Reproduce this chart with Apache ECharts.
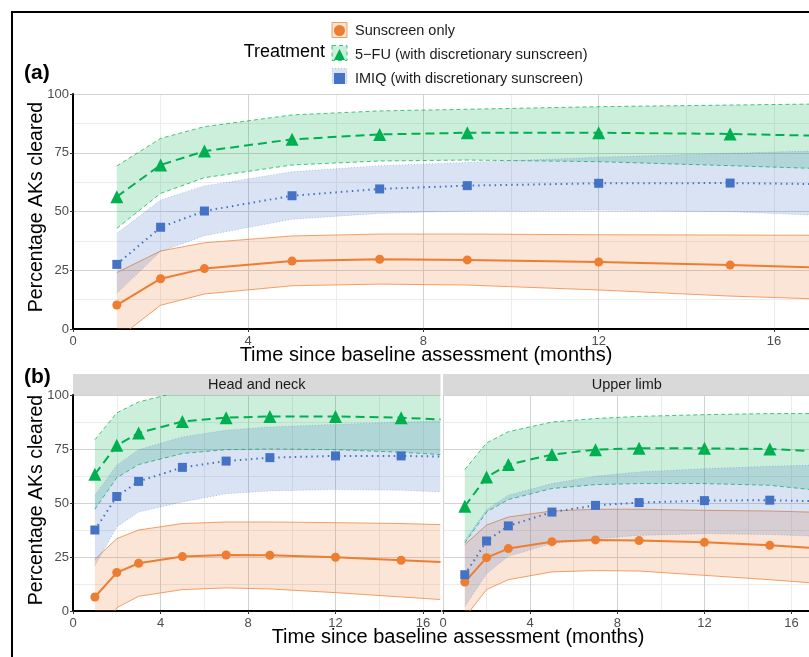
<!DOCTYPE html>
<html><head><meta charset="utf-8">
<script src="https://cdn.jsdelivr.net/npm/echarts@6/dist/echarts.min.js"></script>
<style>html,body{margin:0;padding:0;background:#fff}#c{width:809px;height:657px}</style>
</head><body><div id="c"></div>
<script>
const months = [1, 2, 3, 5, 7, 9, 12, 15, 16.8];
const markerMonths = [1, 2, 3, 5, 7, 9, 12, 15];
const seriesNames = ['Sunscreen only', '5−FU (with discretionary sunscreen)', 'IMIQ (with discretionary sunscreen)'];
const facetLabels = ['Head and neck', 'Upper limb'];
const xTicks = [0, 4, 8, 12, 16];

// (a) all sites
const allSunEst = [10.2, 21.4, 25.7, 28.9, 29.7, 29.4, 28.5, 27.2, 26.3];
const allSunLo  = [-4.3, 10.1, 14.9, 18.4, 19.1, 18.7, 16.6, 14.0, 12.9];
const allSunHi  = [24.0, 33.2, 36.7, 39.6, 40.4, 40.4, 40.1, 40.0, 39.9];
const allFuEst  = [56.3, 69.8, 75.7, 80.7, 82.8, 83.5, 83.5, 83.0, 82.3];
const allFuLo   = [42.8, 57.7, 64.4, 69.8, 71.5, 71.9, 71.2, 69.5, 68.4];
const allFuHi   = [69.4, 81.1, 86.1, 91.1, 92.8, 93.5, 94.6, 95.3, 95.7];
const allImEst  = [27.5, 43.3, 50.2, 56.7, 59.6, 61.0, 62.0, 62.1, 61.7];
const allImLo   = [15.2, 33.0, 39.7, 46.7, 49.2, 50.2, 50.6, 49.9, 48.5];
const allImHi   = [40.7, 54.9, 60.9, 66.9, 69.5, 70.9, 73.1, 74.8, 75.7];
// (b) Head and neck
const hnSunEst = [6.5, 17.8, 22.1, 25.2, 25.9, 25.8, 24.9, 23.5, 22.7];
const hnSunLo  = [-17.0, 1.5, 6.8, 9.9, 10.7, 10.2, 8.5, 6.5, 5.3];
const hnSunHi  = [23.9, 33.5, 37.5, 40.5, 41.2, 41.2, 40.9, 40.5, 40.0];
const hnFuEst  = [63.3, 76.7, 82.4, 87.7, 89.5, 90.1, 90.1, 89.5, 88.7];
const hnFuLo   = [47.1, 61.7, 67.8, 72.9, 74.7, 75.0, 74.7, 73.5, 72.4];
const hnFuHi   = [79.3, 91.7, 96.8, 101.8, 102.8, 103.2, 103.3, 103.0, 102.6];
const hnImEst  = [37.5, 53.0, 60.0, 66.5, 69.4, 71.0, 71.8, 71.8, 71.5];
const hnImLo   = [21.0, 38.9, 45.8, 50.5, 54.3, 55.6, 56.2, 55.9, 55.1];
const hnImHi   = [53.6, 67.5, 74.7, 80.6, 83.7, 85.2, 86.4, 87.4, 88.0];
// (b) Upper limb
const ulSunEst = [13.4, 24.7, 28.9, 32.1, 32.9, 32.6, 31.8, 30.4, 29.3];
const ulSunLo  = [-3.0, 9.9, 14.5, 18.1, 18.7, 18.5, 16.5, 14.5, 13.1];
const ulSunHi  = [30.7, 39.8, 43.5, 46.3, 47.1, 47.1, 46.6, 46.3, 45.8];
const ulFuEst  = [48.5, 62.0, 67.8, 72.4, 74.7, 75.3, 75.3, 75.0, 74.1];
const ulFuLo   = [31.5, 45.8, 51.6, 56.7, 58.5, 59.0, 59.0, 58.2, 56.3];
const ulFuHi   = [65.5, 77.8, 83.0, 87.5, 89.1, 90.1, 90.9, 91.4, 91.4];
const ulImEst  = [16.8, 32.4, 39.4, 45.8, 48.9, 50.2, 51.1, 51.3, 50.9];
const ulImLo   = [2.0, 17.3, 25.3, 31.2, 33.5, 35.0, 35.8, 35.4, 34.7];
const ulImHi   = [32.7, 46.9, 53.6, 59.0, 62.4, 64.4, 65.9, 67.0, 67.5];

const FONT = "'Liberation Sans', Arial, Helvetica, sans-serif";
const colors = ['#ED7D31', '#00B050', '#4472C4'];
const fills = ['rgba(237,125,49,0.2)', 'rgba(0,176,80,0.2)', 'rgba(68,114,196,0.2)'];
const edgeColors = ['rgba(237,125,49,0.9)', 'rgba(0,176,80,0.9)', 'rgba(68,114,196,0.45)'];
const edgeDash = [null, [4, 3], [1, 2]];
const lineDash = ['solid', [9, 5], [1.5, 4]];
const symbols = ['circle', 'triangle', 'rect'];
const symbolSizes = [9, 13, 9];

const panels = [
  {est: [allSunEst, allFuEst, allImEst], lo: [allSunLo, allFuLo, allImLo], hi: [allSunHi, allFuHi, allImHi]},
  {est: [hnSunEst, hnFuEst, hnImEst], lo: [hnSunLo, hnFuLo, hnImLo], hi: [hnSunHi, hnFuHi, hnImHi]},
  {est: [ulSunEst, ulFuEst, ulImEst], lo: [ulSunLo, ulFuLo, ulImLo], hi: [ulSunHi, ulFuHi, ulImHi]}
];

const grids = [
  {left: 73, top: 94, width: 738.5, height: 235},
  {left: 73, top: 395, width: 367.5, height: 216},
  {left: 443, top: 395, width: 367.5, height: 216}
];

const xAxes = [], yAxes = [];
grids.forEach((g, i) => {
  const showY = i < 2;
  xAxes.push({
    type: 'value', gridIndex: i, min: 0, max: 16.8, interval: 4, z: 1,
    axisLine: {show: true, lineStyle: {color: '#000', width: 2}},
    axisTick: {show: true, length: 3, lineStyle: {color: '#333'}, customValues: xTicks},
    axisLabel: {fontSize: 13, color: '#4d4d4d', fontFamily: FONT, margin: 6, customValues: xTicks},
    splitLine: {show: true, showMaxLine: false, lineStyle: {color: '#d2d2d2', width: 1}}
  });
  xAxes.push({
    type: 'value', gridIndex: i, min: 0, max: 16.8, interval: 2, position: 'top', z: 0,
    axisLine: {show: false}, axisTick: {show: false}, axisLabel: {show: false},
    splitLine: {show: true, showMaxLine: false, lineStyle: {color: '#ececec', width: 1}}
  });
  yAxes.push({
    type: 'value', gridIndex: i, min: 0, max: 100, interval: 25, z: 1,
    axisLine: {show: showY, lineStyle: {color: '#000', width: 2}},
    axisTick: {show: showY, length: 3, lineStyle: {color: '#333'}},
    axisLabel: {show: showY, fontSize: 13, color: '#4d4d4d', fontFamily: FONT, margin: 4},
    splitLine: {show: true, lineStyle: {color: '#d2d2d2', width: 1}}
  });
  yAxes.push({
    type: 'value', gridIndex: i, min: 0, max: 100, interval: 12.5, position: 'right', z: 0,
    axisLine: {show: false}, axisTick: {show: false}, axisLabel: {show: false},
    splitLine: {show: true, lineStyle: {color: '#ececec', width: 1}}
  });
});

function bandSeries(g, t, lo, hi) {
  return {
    type: 'custom', xAxisIndex: g * 2, yAxisIndex: g * 2, z: 2, silent: true,
    data: months.map((m, i) => [m, lo[i], hi[i]]),
    encode: {x: 0, y: [1, 2]},
    renderItem: function (params, api) {
      if (params.dataIndexInside !== 0) return null;
      const n = params.dataInsideLength;
      const loPts = [], hiPts = [];
      for (let i = 0; i < n; i++) {
        const x = api.value(0, i);
        loPts.push(api.coord([x, api.value(1, i)]));
        hiPts.push(api.coord([x, api.value(2, i)]));
      }
      const cs = params.coordSys;
      const edgeStyle = {fill: null, stroke: edgeColors[t], lineWidth: 0.8, lineDash: edgeDash[t]};
      return {
        type: 'group',
        clipPath: {type: 'rect', shape: {x: cs.x, y: cs.y, width: cs.width, height: cs.height}},
        children: [
          {type: 'polygon', shape: {points: loPts.concat(hiPts.slice().reverse())}, style: {fill: fills[t], stroke: null}},
          {type: 'polyline', shape: {points: loPts}, style: edgeStyle},
          {type: 'polyline', shape: {points: hiPts}, style: edgeStyle}
        ]
      };
    }
  };
}

const series = [];
panels.forEach((p, g) => {
  for (let t = 0; t < 3; t++) series.push(bandSeries(g, t, p.lo[t], p.hi[t]));
  for (let t = 0; t < 3; t++) {
    series.push({
      type: 'line', name: seriesNames[t], xAxisIndex: g * 2, yAxisIndex: g * 2, z: 3,
      symbol: symbols[t], symbolSize: symbolSizes[t], showSymbol: true,
      itemStyle: {color: colors[t]},
      lineStyle: {color: colors[t], width: 2, type: lineDash[t]},
      data: months.map((m, i) => markerMonths.includes(m)
        ? [m, p.est[t][i]]
        : {value: [m, p.est[t][i]], symbol: 'none'})
    });
  }
});

const xTitle = 'Time since baseline assessment (months)';
const yTitle = 'Percentage AKs cleared';
const keyRows = [22.5, 45.5, 68.5];
const graphic = [
  {type: 'rect', shape: {x: 12, y: 12, width: 900, height: 800}, style: {fill: 'none', stroke: '#000', lineWidth: 2}, z: 10},
  {type: 'text', x: 24, y: 73, style: {text: '(a)', font: "bold 21px " + FONT, fill: '#000', textVerticalAlign: 'middle'}},
  {type: 'text', x: 24, y: 377, style: {text: '(b)', font: "bold 21px " + FONT, fill: '#000', textVerticalAlign: 'middle'}},
  {type: 'text', x: 325, y: 52, style: {text: 'Treatment', font: "18px " + FONT, fill: '#000', textAlign: 'right', textVerticalAlign: 'middle'}},
  {type: 'text', x: 426, y: 355, style: {text: xTitle, font: "20px " + FONT, fill: '#000', textAlign: 'center', textVerticalAlign: 'middle'}},
  {type: 'text', x: 458, y: 637, style: {text: xTitle, font: "20px " + FONT, fill: '#000', textAlign: 'center', textVerticalAlign: 'middle'}},
  {type: 'text', x: 37, y: 207, rotation: Math.PI / 2, style: {text: yTitle, font: "19.5px " + FONT, fill: '#000', textAlign: 'center', textVerticalAlign: 'middle'}},
  {type: 'text', x: 37, y: 500, rotation: Math.PI / 2, style: {text: yTitle, font: "19.5px " + FONT, fill: '#000', textAlign: 'center', textVerticalAlign: 'middle'}},
  {type: 'rect', shape: {x: 73, y: 374, width: 367.5, height: 21}, style: {fill: '#d9d9d9'}},
  {type: 'rect', shape: {x: 443, y: 374, width: 367.5, height: 21}, style: {fill: '#d9d9d9'}},
  {type: 'text', x: 256.75, y: 384.5, style: {text: facetLabels[0], font: "14.5px " + FONT, fill: '#1a1a1a', textAlign: 'center', textVerticalAlign: 'middle'}},
  {type: 'text', x: 626.75, y: 384.5, style: {text: facetLabels[1], font: "14.5px " + FONT, fill: '#1a1a1a', textAlign: 'center', textVerticalAlign: 'middle'}}
];
keyRows.forEach((y, t) => {
  graphic.push({type: 'rect', z: 0, shape: {x: 332, y: y, width: 15, height: 15},
    style: {fill: fills[t], stroke: edgeColors[t], lineWidth: 0.8, lineDash: edgeDash[t]}});
});

const chart = echarts.init(document.getElementById('c'), null, {renderer: 'canvas'});
chart.setOption({
  animation: false,
  backgroundColor: '#fff',
  textStyle: {fontFamily: FONT},
  grid: grids,
  xAxis: xAxes,
  yAxis: yAxes,
  legend: {
    orient: 'vertical', left: 334, top: 23, padding: 0, itemWidth: 11, itemHeight: 11, itemGap: 9, itemTextGap: 15,
    selectedMode: false, z: 5,
    data: seriesNames.map((n, i) => ({name: n, icon: symbols[i], itemStyle: {color: colors[i]}})),
    textStyle: {fontSize: 14.5, color: '#1a1a1a', fontFamily: FONT, lineHeight: 14, padding: [0, 0, 0, 5]}
  },
  graphic: graphic,
  series: series
});
</script></body></html>
